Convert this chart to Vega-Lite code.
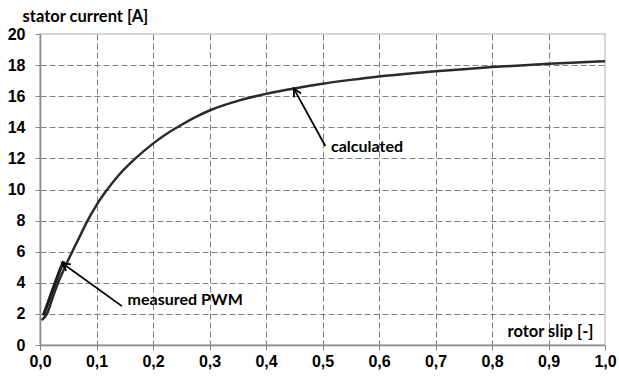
{
  "$schema": "https://vega.github.io/schema/vega-lite/v6.json",
  "width": 565,
  "height": 311,
  "autosize": {"type": "none"},
  "padding": {"left": 40, "top": 34, "right": 14, "bottom": 31},
  "background": "white",
  "config": {
    "view": {"stroke": "#c8c8c8", "strokeWidth": 1.5},
    "axis": {
      "labelFont": "Liberation Sans",
      "labelFontWeight": "bold",
      "labelFontSize": 16,
      "labelColor": "#000000",
      "labelOverlap": false,
      "labelFlush": false,
      "domainColor": "#888888",
      "domainWidth": 1.5,
      "tickColor": "#888888",
      "tickSize": 5,
      "gridColor": "#808080",
      "gridDash": [6, 3],
      "gridWidth": 1,
      "titleFont": "Lato",
      "titleFontWeight": "bold",
      "titleFontSize": 16.5,
      "titleColor": "#000000"
    },
    "axisY": {"labelOverlap": false}
  },
  "resolve": {"axis": {"x": "independent", "y": "independent"}},
  "datasets": {
    "calc": [
      {"slip": 0.003, "current": 1.6},
      {"slip": 0.013, "current": 2.05},
      {"slip": 0.022, "current": 3.0},
      {"slip": 0.032, "current": 4.0},
      {"slip": 0.044, "current": 5.0},
      {"slip": 0.057, "current": 6.0},
      {"slip": 0.07, "current": 6.95},
      {"slip": 0.0835, "current": 7.95},
      {"slip": 0.1, "current": 9.0},
      {"slip": 0.118, "current": 9.95},
      {"slip": 0.14, "current": 10.95},
      {"slip": 0.169, "current": 12.0},
      {"slip": 0.2, "current": 12.95},
      {"slip": 0.225, "current": 13.6},
      {"slip": 0.25, "current": 14.15},
      {"slip": 0.275, "current": 14.65},
      {"slip": 0.3, "current": 15.08},
      {"slip": 0.35, "current": 15.7},
      {"slip": 0.4, "current": 16.15},
      {"slip": 0.45, "current": 16.5},
      {"slip": 0.5, "current": 16.8},
      {"slip": 0.55, "current": 17.05},
      {"slip": 0.6, "current": 17.27},
      {"slip": 0.65, "current": 17.45},
      {"slip": 0.7, "current": 17.6},
      {"slip": 0.75, "current": 17.74},
      {"slip": 0.8, "current": 17.87},
      {"slip": 0.85, "current": 17.98},
      {"slip": 0.9, "current": 18.08},
      {"slip": 0.95, "current": 18.17},
      {"slip": 1.0, "current": 18.25}
    ],
    "meas": [
      {"slip": 0.006, "current": 1.9},
      {"slip": 0.015, "current": 2.8},
      {"slip": 0.025, "current": 3.8},
      {"slip": 0.035, "current": 4.8},
      {"slip": 0.042, "current": 5.4}
    ],
    "notes": [
      {"label": "calculated", "tipX": 0.449, "tipY": 16.5, "tailX": 0.505, "tailY": 12.8, "textX": 0.515, "textY": 12.75},
      {"label": "measured PWM", "tipX": 0.039, "tipY": 5.27, "tailX": 0.145, "tailY": 2.5, "textX": 0.155, "textY": 2.9}
    ]
  },
  "layer": [
    {
      "data": {"name": "calc"},
      "mark": {"type": "line", "color": "#2b2b2b", "strokeWidth": 2.5, "interpolate": "monotone"},
      "encoding": {
        "x": {
          "field": "slip", "type": "quantitative",
          "scale": {"domain": [0, 1], "nice": false, "zero": false},
          "axis": {
            "values": [0, 0.1, 0.2, 0.3, 0.4, 0.5, 0.6, 0.7, 0.8, 0.9, 1.0],
            "labelExpr": "replace(format(datum.value, '.1f'), '.', ',')",
            "labelOverlap": false,
            "labelPadding": 3,
            "title": "rotor slip [-]",
            "titleAngle": 0,
            "titleAlign": "right",
            "titleBaseline": "middle",
            "titleX": 553,
            "titleY": -14,
            "gridOpacity": {"condition": {"test": "datum.value <= 0.001 || datum.value >= 0.999", "value": 0}, "value": 1}
          }
        },
        "y": {
          "field": "current", "type": "quantitative",
          "scale": {"domain": [0, 20], "nice": false},
          "axis": {
            "values": [0, 2, 4, 6, 8, 10, 12, 14, 16, 18, 20],
            "labelOverlap": false,
            "labelPadding": 10,
            "title": "stator current [A]",
            "titleAngle": 0,
            "titleAlign": "left",
            "titleBaseline": "middle",
            "titleX": -18,
            "titleY": -18,
            "gridOpacity": {"condition": {"test": "datum.value <= 0.001 || datum.value >= 19.99", "value": 0}, "value": 1}
          }
        }
      }
    },
    {
      "data": {"name": "meas"},
      "mark": {"type": "line", "color": "#1e1e1e", "strokeWidth": 3.2},
      "encoding": {
        "x": {"field": "slip", "type": "quantitative", "axis": null},
        "y": {"field": "current", "type": "quantitative", "axis": null}
      }
    },
    {
      "data": {"name": "notes"},
      "mark": {"type": "rule", "color": "#000000", "strokeWidth": 1.8},
      "encoding": {
        "x": {"field": "tailX", "type": "quantitative", "axis": null},
        "y": {"field": "tailY", "type": "quantitative", "axis": null},
        "x2": {"field": "tipX"},
        "y2": {"field": "tipY"}
      }
    },
    {
      "data": {"name": "notes"},
      "mark": {"type": "point", "shape": "M-0.5,1L0,0L0.5,1", "filled": false, "stroke": "#000000", "strokeWidth": 1.8, "size": 256, "opacity": 1},
      "encoding": {
        "x": {"field": "tipX", "type": "quantitative", "axis": null},
        "y": {"field": "tipY", "type": "quantitative", "axis": null},
        "angle": {"field": "label", "type": "nominal", "scale": {"domain": ["calculated", "measured PWM"], "range": [331, 305]}, "legend": null}
      }
    },
    {
      "data": {"name": "notes"},
      "mark": {"type": "text", "align": "left", "baseline": "middle", "font": "Lato", "fontWeight": "bold", "fontSize": 16, "color": "#000000"},
      "encoding": {
        "x": {"field": "textX", "type": "quantitative", "axis": null},
        "y": {"field": "textY", "type": "quantitative", "axis": null},
        "text": {"field": "label"}
      }
    }
  ]
}
